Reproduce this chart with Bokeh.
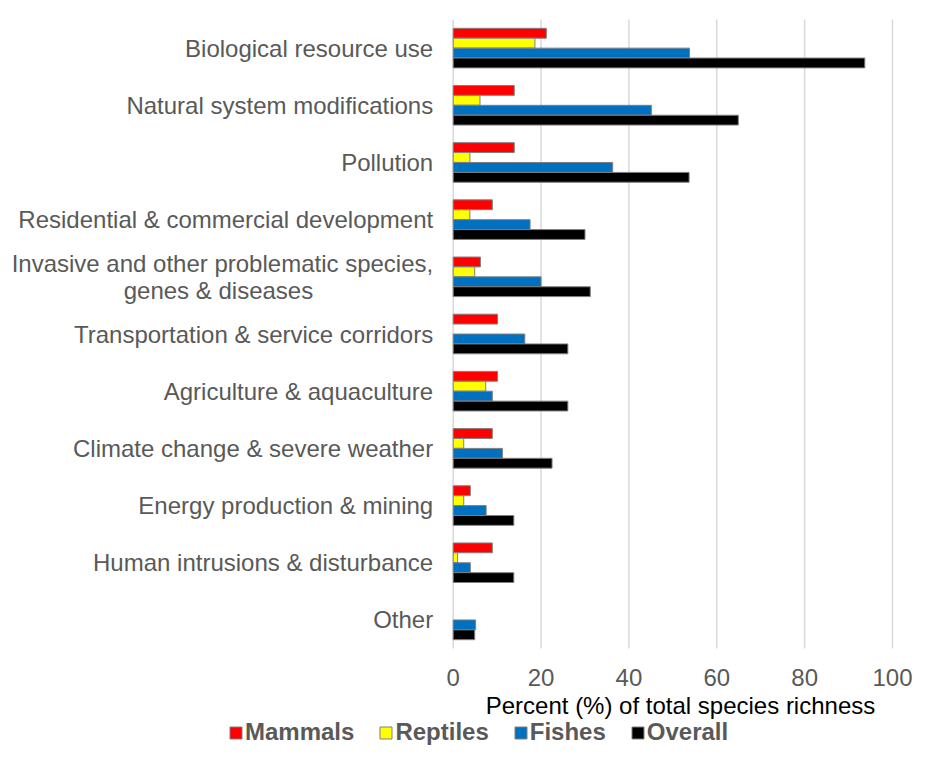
from bokeh.plotting import figure
from bokeh.models import ColumnDataSource, Range1d, Legend, LegendItem, FixedTicker
from bokeh.embed import file_html
from bokeh.resources import INLINE

NBSP = "\u00a0"
categories = [
    "Biological resource use",
    "Natural system modifications",
    "Pollution",
    "Residential & commercial development",
    "Invasive and other problematic species,\ngenes & diseases" + NBSP * 18,
    "Transportation & service corridors",
    "Agriculture & aquaculture",
    "Climate change & severe weather",
    "Energy production & mining",
    "Human intrusions & disturbance",
    "Other",
]
mammals = [21.2, 13.9, 13.9, 8.9, 6.2, 10.1, 10.1, 8.9, 3.9, 8.9, 0]
reptiles = [18.6, 6.1, 3.8, 3.8, 4.9, 0, 7.4, 2.4, 2.4, 1.0, 0]
fishes = [53.8, 45.1, 36.3, 17.5, 20.0, 16.3, 8.9, 11.2, 7.5, 3.9, 5.1]
overall = [93.7, 64.9, 53.7, 30.0, 31.2, 26.1, 26.1, 22.5, 13.8, 13.8, 4.9]
series_names = ["Mammals", "Reptiles", "Fishes", "Overall"]
series_colors = ["#ff0000", "#ffff00", "#0070c0", "#000000"]
x_ticks = [0, 20, 40, 60, 80, 100]
x_title = "Percent (%) of total species richness"

FONT = "Liberation Sans"
OUTLINE = "#7f7f7f"
GRID = "#d9d9d9"

# layout of the figure, in pixels
W, H = 913, 746
X0_PX, X100_PX = 452.7, 892.0          # where 0 and 100 fall
TOP_PX, BAND_PX = 19, 629 / len(categories)

n = len(categories)
ypos = [n - 1 - i for i in range(n)]     # category centres, first at top
scale = (X100_PX - X0_PX) / 100.0
x_start = -X0_PX / scale
x_end = (W - X0_PX) / scale
y_end = (n - 0.5) + TOP_PX / BAND_PX
y_start = (n - 0.5) - (H - TOP_PX) / BAND_PX

p = figure(
    width=W, height=H,
    x_range=Range1d(x_start, x_end), y_range=Range1d(y_start, y_end),
    output_backend="svg", toolbar_location=None, title=None, min_border=0,
)
p.outline_line_color = None
p.xgrid.visible = False
p.ygrid.visible = False

# vertical grid lines over the category area only
p.segment(x0=x_ticks, x1=x_ticks, y0=[-0.5] * len(x_ticks), y1=[n - 0.5] * len(x_ticks),
          line_color=GRID, line_width=1.5)

offsets = [0.26, 0.0867, -0.0867, -0.26]
renderers = []
for name, vals, color, off in zip(series_names, [mammals, reptiles, fishes, overall], series_colors, offsets):
    yy = [y + off for y, v in zip(ypos, vals) if v > 0]
    vv = [v for v in vals if v > 0]
    src = ColumnDataSource(dict(y=yy, val=vv))
    r = p.hbar(y="y", left=0, right="val", height=0.172,
               fill_color=color, line_color=OUTLINE, line_width=1, source=src)
    renderers.append(r)

# x axis, pinned under the last category
xa = p.xaxis[0]
xa.fixed_location = -0.5
xa.bounds = (0, 103.5)
xa.ticker = FixedTicker(ticks=x_ticks)
xa.axis_line_color = None
xa.major_tick_line_color = None
xa.minor_tick_line_color = None
xa.major_tick_out = 0
xa.major_tick_in = 0
xa.major_label_text_font = FONT
xa.major_label_text_font_size = "24px"
xa.major_label_text_color = "#595959"
xa.major_label_standoff = 20
xa.axis_label = x_title
xa.axis_label_text_font = FONT
xa.axis_label_text_font_size = "24px"
xa.axis_label_text_font_style = "normal"
xa.axis_label_text_color = "#000000"
xa.axis_label_standoff = 3

# y axis (categories), pinned at x = 0
ya = p.yaxis[0]
ya.fixed_location = 0
ya.ticker = FixedTicker(ticks=ypos)
ya.major_label_overrides = {y: c for y, c in zip(ypos, categories)}
ya.axis_line_color = None
ya.major_tick_line_color = None
ya.minor_tick_line_color = None
ya.major_tick_out = 0
ya.major_tick_in = 0
ya.major_label_text_font = FONT
ya.major_label_text_font_size = "24px"
ya.major_label_text_color = "#595959"
ya.major_label_text_line_height = 0.98
ya.major_label_standoff = 20

legend = Legend(
    items=[LegendItem(label=nm, renderers=[r]) for nm, r in zip(series_names, renderers)],
    orientation="horizontal", location=(228, 0),
    padding=0, margin=0, spacing=24,
    glyph_width=15, glyph_height=15, label_standoff=2,
    label_text_font=FONT, label_text_font_size="24px",
    label_text_font_style="bold", label_text_color="#595959",
    border_line_color=None, background_fill_alpha=0,
)
p.add_layout(legend)

open("out.html", "w").write(file_html(p, INLINE))
